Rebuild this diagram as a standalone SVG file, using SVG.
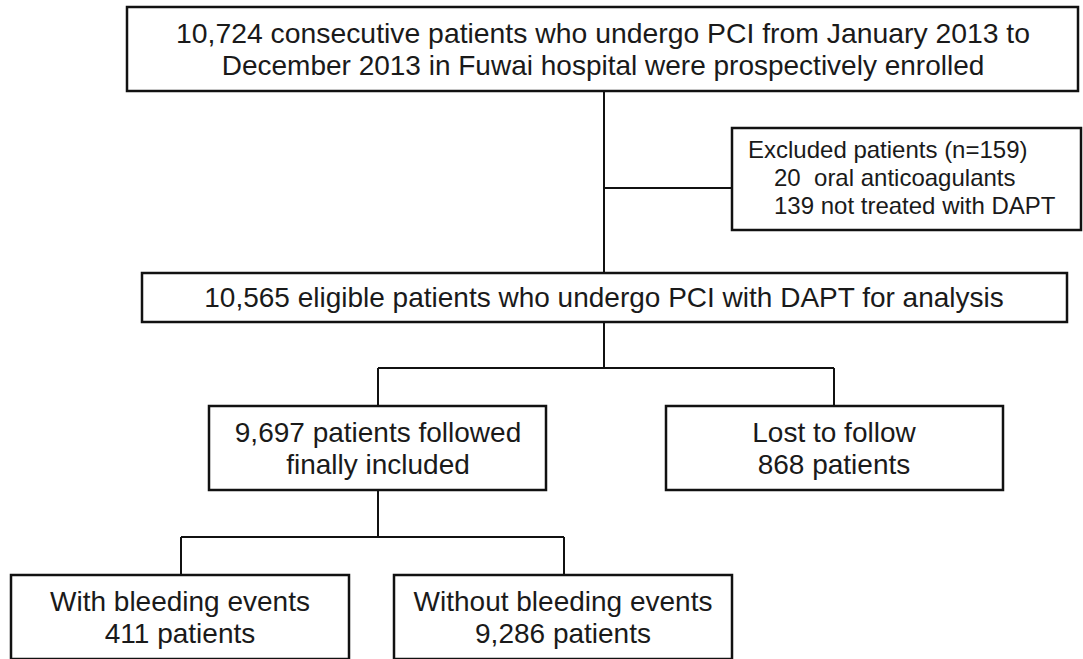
<svg xmlns="http://www.w3.org/2000/svg" width="1083" height="659" viewBox="0 0 1083 659">
<style>
.box{fill:#fff;stroke:#111;stroke-width:2.5}
.t{font-family:"Liberation Sans",Arial,sans-serif;font-size:28px;fill:#1a1a1a;text-anchor:middle}
.ts{font-family:"Liberation Sans",Arial,sans-serif;font-size:24px;fill:#1a1a1a}
.c{fill:none;stroke:#111;stroke-width:2}
</style>
<rect width="1083" height="659" fill="#fff"/>
<g id="connectors">
<path class="c" d="M604 91V273M604 188H732"/>
<path class="c" d="M604 322V368M378 368H834M378 368V406M834 368V406"/>
<path class="c" d="M378 490V537M181 537H564M181 537V575M564 537V575"/>
</g>
<g id="n1">
<rect class="box" x="127" y="7" width="951" height="84"/>
<text class="t" x="603" y="43" textLength="854" lengthAdjust="spacingAndGlyphs">10,724 consecutive patients who undergo PCI from January 2013 to</text>
<text class="t" x="603" y="75">December 2013 in Fuwai hospital were prospectively enrolled</text>
</g>
<g id="excluded">
<rect class="box" x="732" y="128" width="349" height="102"/>
<text class="ts" x="748" y="158">Excluded patients (n=159)</text>
<text class="ts" x="774" y="186" xml:space="preserve">20  oral anticoagulants</text>
<text class="ts" x="774" y="214">139 not treated with DAPT</text>
</g>
<g id="eligible">
<rect class="box" x="142" y="273" width="925" height="49"/>
<text class="t" x="604" y="307">10,565 eligible patients who undergo PCI with DAPT for analysis</text>
</g>
<g id="followed">
<rect class="box" x="209" y="406" width="337" height="84"/>
<text class="t" x="378" y="442">9,697 patients followed</text>
<text class="t" x="378" y="474">finally included</text>
</g>
<g id="lost">
<rect class="box" x="666" y="406" width="337" height="84"/>
<text class="t" x="834" y="442">Lost to follow</text>
<text class="t" x="834" y="474">868 patients</text>
</g>
<g id="bleeding">
<rect class="box" x="11" y="575" width="338" height="84"/>
<text class="t" x="180" y="611">With bleeding events</text>
<text class="t" x="180" y="643">411 patients</text>
</g>
<g id="nobleeding">
<rect class="box" x="394" y="575" width="338" height="84"/>
<text class="t" x="563" y="611">Without bleeding events</text>
<text class="t" x="563" y="643">9,286 patients</text>
</g>
</svg>
